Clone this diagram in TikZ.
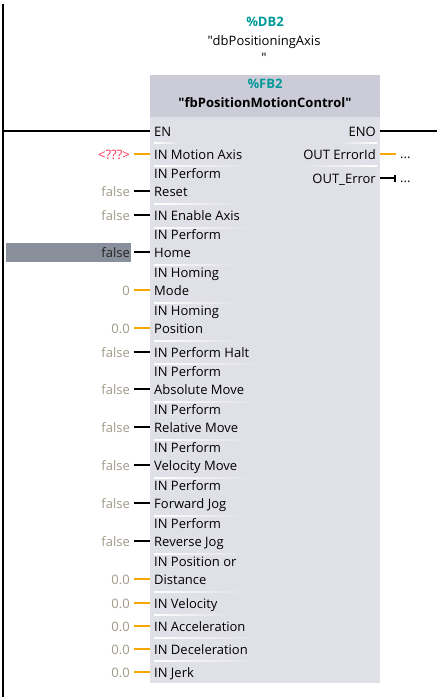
\documentclass[tikz,border=0pt]{standalone}
\usepackage{fontspec}
\setmainfont{Open Sans}
\usetikzlibrary{positioning,arrows.meta,calc}
\definecolor{BlockHead}{RGB}{203,204,216}
\definecolor{BlockBody}{RGB}{224,224,232}
\definecolor{InstTeal}{RGB}{0,153,153}
\definecolor{WireOrange}{RGB}{247,166,0}
\definecolor{ValueGray}{RGB}{160,154,138}
\definecolor{UnknownRed}{RGB}{255,51,85}
\definecolor{SelectGray}{RGB}{138,143,156}

\begin{document}
\begin{tikzpicture}[x=1pt,y=-1pt,
    pinfont/.style={font=\fontsize{13}{15}\selectfont},
    pinlabel/.style={pinfont,anchor=base west,inner sep=0pt},
    outlabel/.style={pinfont,anchor=base east,inner sep=0pt},
    pinvalue/.style={pinfont,anchor=base east,inner sep=0pt},
    headtext/.style={font=\fontsize{13}{15}\selectfont\bfseries,inner sep=0pt},
    wire/.style={line width=2pt}]
  \useasboundingbox (0,0) rectangle (437,697);
  % instance data block
  \node[headtext,InstTeal] (dbnum) at (265,22) {\%DB2};
  \node[pinfont,inner sep=0pt] (dbname) at (264,42) {\textquotedbl dbPositioningAxis};
  \node[pinfont,inner sep=0pt] (dbquote) at (264,58) {\textquotedbl};
  % block body and header
  \fill[BlockBody] (150,75) rectangle (380,683);
  \fill[BlockHead] (150,75) rectangle (380,117);
  \node[headtext,InstTeal] (fbnum) at (265,84) {\%FB2};
  \node[headtext] (fbname) at (265,103) {\textquotedbl fbPositionMotionControl\textquotedbl};
  % power rail
  \coordinate (railtop) at (3,4);
  \coordinate (railbot) at (3,697);
  \draw[wire] (railtop) -- (railbot);
  % row separators
  \foreach \sy/\sx in {142/180,165/250,203/240,227/252,264/236,302/236,340/240,
      363/262,401/256,439/252,477/254,515/244,553/244,591/246,614/228,637/256,660/258}
    \shade[left color=white,right color=BlockBody] (154,\sy) rectangle (\sx,\sy+1.2);
  \shade[left color=BlockBody,right color=white] (340,142) rectangle (377,143.2);
  \shade[left color=BlockBody,right color=white] (300,165) rectangle (377,166.2);
  % EN / ENO
  \coordinate (railen) at (3,131);
  \coordinate (pinen) at (150,131);
  \node[pinlabel] (lblen) at (154,136) {EN};
  \draw[wire] (railen) -- (pinen);
  \coordinate (pineno) at (380,131);
  \coordinate (rightend) at (437,131);
  \node[outlabel] (lbleno) at (376,136) {ENO};
  \draw[wire] (pineno) -- (rightend);
  % selected value
  \fill[SelectGray] (6,243) rectangle (131,262);
  % single line inputs
  \foreach \i/\y/\lbl/\val/\vcol/\wcol in {
      2/154/IN Motion Axis/<???>/UnknownRed/WireOrange,
      4/215/IN Enable Axis/false/ValueGray/black,
      8/352/IN Perform Halt/false/ValueGray/black,
      15/603/IN Velocity/0.0/ValueGray/WireOrange,
      16/626/IN Acceleration/0.0/ValueGray/WireOrange,
      17/649/IN Deceleration/0.0/ValueGray/WireOrange,
      18/672/IN Jerk/0.0/ValueGray/WireOrange} {
    \node[pinlabel] (lbl\i) at (154,\y+5) {\lbl};
    \node[pinvalue,\vcol] (val\i) at (130,\y+5) {\val};
    \coordinate (stub\i) at (134,\y);
    \coordinate (pin\i) at (150,\y);
    \draw[wire,\wcol] (stub\i) -- (pin\i);
  }
  % two line inputs
  \foreach \i/\y/\top/\bot/\val/\vcol/\wcol in {
      3/191/IN Perform/Reset/false/ValueGray/black,
      5/252/IN Perform/Home/false/black!85/black,
      6/290/IN Homing/Mode/0/ValueGray/WireOrange,
      7/328/IN Homing/Position/0.0/ValueGray/WireOrange,
      9/389/IN Perform/Absolute Move/false/ValueGray/black,
      10/427/IN Perform/Relative Move/false/ValueGray/black,
      11/465/IN Perform/Velocity Move/false/ValueGray/black,
      12/503/IN Perform/Forward Jog/false/ValueGray/black,
      13/541/IN Perform/Reverse Jog/false/ValueGray/black,
      14/579/IN Position or/Distance/0.0/ValueGray/WireOrange} {
    \node[pinlabel] (lbltop\i) at (154,\y-13) {\top};
    \node[pinlabel] (lbl\i) at (154,\y+5) {\bot};
    \node[pinvalue,\vcol] (val\i) at (130,\y+5) {\val};
    \coordinate (stub\i) at (134,\y);
    \coordinate (pin\i) at (150,\y);
    \draw[wire,\wcol] (stub\i) -- (pin\i);
  }
  % outputs
  \node[outlabel] (lblerrid) at (376,159) {OUT ErrorId};
  \coordinate (pinerrid) at (380,154);
  \coordinate (enderrid) at (396,154);
  \draw[wire,WireOrange] (pinerrid) -- (enderrid);
  \node[pinlabel] (doterrid) at (400,158) {...};
  \node[outlabel] (lblerr) at (376,183) {OUT\_Error};
  \coordinate (pinerr) at (380,178);
  \coordinate (enderr) at (396,178);
  \draw[wire,-{Bar[width=7pt,line width=2pt]}] (pinerr) -- (enderr);
  \node[pinlabel] (doterr) at (400,182) {...};
\end{tikzpicture}
\end{document}
